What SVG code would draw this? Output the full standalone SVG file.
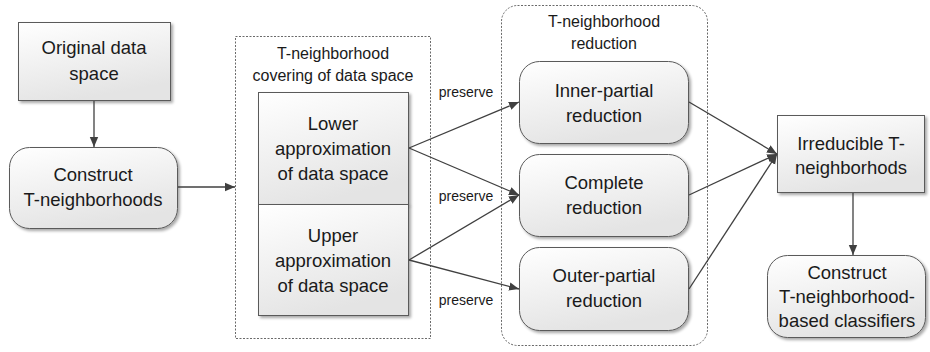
<svg xmlns="http://www.w3.org/2000/svg" width="930" height="352" viewBox="0 0 930 352">
  <defs>
    <linearGradient id="boxFill" x1="0" y1="0" x2="0.35" y2="1">
      <stop offset="0" stop-color="#ffffff"/>
      <stop offset="1" stop-color="#e4e4e4"/>
    </linearGradient>
    <filter id="shadow" x="-10%" y="-10%" width="130%" height="130%">
      <feGaussianBlur in="SourceAlpha" stdDeviation="1.5"/>
      <feOffset dx="2" dy="2" result="b"/>
      <feComponentTransfer><feFuncA type="linear" slope="0.35"/></feComponentTransfer>
      <feMerge><feMergeNode/><feMergeNode in="SourceGraphic"/></feMerge>
    </filter>
    <marker id="arrow" viewBox="0 0 10 10" refX="10" refY="5" markerWidth="10" markerHeight="10" markerUnits="userSpaceOnUse" orient="auto">
      <path d="M0,0.8 L10,5 L0,9.2 Z" fill="#404040"/>
    </marker>
    <style>
      .box { fill: url(#boxFill); stroke: #5a5a5a; stroke-width: 1; filter: url(#shadow); }
      .group { fill: none; stroke: #6a6a6a; stroke-width: 1; stroke-dasharray: 2 1.5; }
      .conn { fill: none; stroke: #404040; stroke-width: 1.3; marker-end: url(#arrow); }
      text { font-family: "Liberation Sans", Arial, sans-serif; fill: #1a1a1a; text-anchor: middle; }
      .t { font-size: 18.5px; }
      .title { font-size: 16px; }
      .lbl { font-size: 14px; }
    </style>
  </defs>

  <!-- container outlines -->
  <g id="covering-group">
    <rect class="group" x="235.5" y="36.5" width="195" height="302"/>
    <text class="title" x="333" y="59">T-neighborhood</text>
    <text class="title" x="333" y="81">covering of data space</text>
  </g>
  <g id="reduction-group">
    <rect class="group" x="501.5" y="5.5" width="206" height="340" rx="16" ry="16"/>
    <text class="title" x="604" y="27">T-neighborhood</text>
    <text class="title" x="604" y="49">reduction</text>
  </g>

  <!-- nodes -->
  <g id="original">
    <rect class="box" x="18.5" y="22.5" width="152" height="78"/>
    <text class="t" x="94" y="54">Original data</text>
    <text class="t" x="94" y="80">space</text>
  </g>
  <g id="construct">
    <rect class="box" x="9.5" y="147.5" width="168" height="81" rx="20" ry="20"/>
    <text class="t" x="93" y="181">Construct</text>
    <text class="t" x="93" y="206">T-neighborhoods</text>
  </g>
  <g id="lower">
    <rect class="box" x="258.5" y="92.5" width="150" height="112"/>
    <text class="t" x="333" y="129.5">Lower</text>
    <text class="t" x="333" y="154.5">approximation</text>
    <text class="t" x="333" y="180">of data space</text>
  </g>
  <g id="upper">
    <rect class="box" x="258.5" y="204.5" width="150" height="111"/>
    <text class="t" x="333" y="241.5">Upper</text>
    <text class="t" x="333" y="266.5">approximation</text>
    <text class="t" x="333" y="291.5">of data space</text>
  </g>
  <g id="inner">
    <rect class="box" x="519.5" y="61.5" width="169" height="82" rx="20" ry="20"/>
    <text class="t" x="604" y="96.5">Inner-partial</text>
    <text class="t" x="604" y="121.5">reduction</text>
  </g>
  <g id="complete">
    <rect class="box" x="519.5" y="154.5" width="169" height="82" rx="20" ry="20"/>
    <text class="t" x="604" y="188.5">Complete</text>
    <text class="t" x="604" y="213.5">reduction</text>
  </g>
  <g id="outer">
    <rect class="box" x="519.5" y="247.5" width="169" height="83" rx="20" ry="20"/>
    <text class="t" x="604" y="281.5">Outer-partial</text>
    <text class="t" x="604" y="306.5">reduction</text>
  </g>
  <g id="irreducible">
    <rect class="box" x="777.5" y="115.5" width="147" height="77"/>
    <text class="t" x="851" y="149.5">Irreducible T-</text>
    <text class="t" x="851" y="173.5">neighborhods</text>
  </g>
  <g id="classifiers">
    <rect class="box" x="767.5" y="255.5" width="158" height="82" rx="20" ry="20"/>
    <text class="t" x="847" y="278.5">Construct</text>
    <text class="t" x="847" y="302.5">T-neighborhood-</text>
    <text class="t" x="847" y="326.5">based classifiers</text>
  </g>

  <!-- connectors -->
  <g id="connectors">
    <line class="conn" x1="94" y1="101" x2="94" y2="147"/>
    <line class="conn" x1="178" y1="187" x2="235" y2="187"/>
    <line class="conn" x1="409" y1="148" x2="519" y2="102"/>
    <line class="conn" x1="409" y1="148" x2="519" y2="195"/>
    <line class="conn" x1="409" y1="260" x2="519" y2="195"/>
    <line class="conn" x1="409" y1="260" x2="519" y2="289"/>
    <line class="conn" x1="689" y1="102" x2="777" y2="154"/>
    <line class="conn" x1="689" y1="195" x2="777" y2="154"/>
    <line class="conn" x1="689" y1="289" x2="777" y2="154"/>
    <line class="conn" x1="853" y1="193" x2="853" y2="255"/>
    <text class="lbl" x="466" y="97">preserve</text>
    <text class="lbl" x="466" y="201">preserve</text>
    <text class="lbl" x="466" y="305">preserve</text>
  </g>
</svg>
